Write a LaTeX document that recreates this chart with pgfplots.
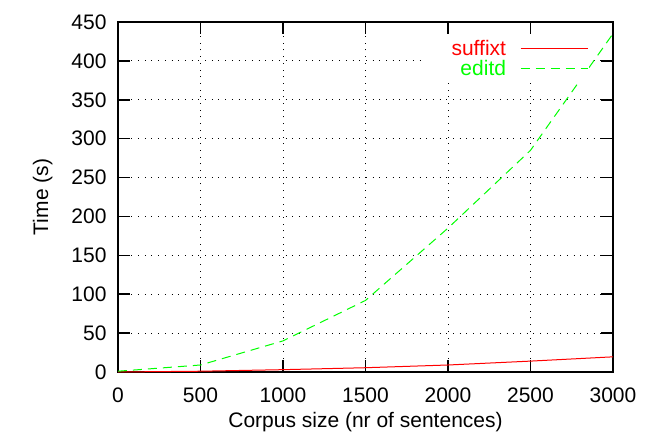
\documentclass[border=0pt]{standalone}
\usepackage{fontspec}
\setmainfont{Liberation Sans}
\usepackage{pgfplots}
\pgfplotsset{compat=1.18}
\begin{document}
\begin{tikzpicture}[x=1pt,y=1pt]
\path[use as bounding box] (-118,-64) rectangle (538,372);
\begin{axis}[
    at={(0,0)}, anchor=south west,
    scale only axis,
    width=495pt, height=350pt,
    xmin=0, xmax=3000, ymin=0, ymax=450,
    xtick={0,500,...,3000},
    ytick={0,50,...,450},
    /pgf/number format/1000 sep={},
    /pgf/number format/assume math mode=true,
    tick label style={font=\fontsize{21}{24}\selectfont},
    xticklabel style={yshift=-12pt},
    yticklabel style={xshift=-8pt},
    label style={font=\fontsize{21}{24}\selectfont},
    xlabel={Corpus size (nr of sentences)},
    ylabel={Time (s)},
    xlabel style={yshift=-3pt},
    ylabel style={yshift=12pt},
    axis line style={line width=1.6pt},
    major tick length=12pt,
    tick style={line width=1.6pt, black},
    grid=major,
    major grid style={black, line width=0.9pt, dash pattern=on 0.9pt off 5.8pt},
    legend style={at={(rel axis cs:0.952,0.96)}, anchor=north east, draw=none, fill=white,
        font=\fontsize{21}{21}\selectfont, row sep=-1pt, inner xsep=1pt, inner ysep=2pt,
        /tikz/every odd column/.append style={column sep=12pt}},
    legend cell align=right,
    legend plot pos=right,
    legend image code/.code={\draw[#1] (0,0) -- (67pt,0);},
]
\addplot[red, line width=1pt] coordinates {
    (0,0) (500,1) (1000,3) (1500,5.5) (2000,9) (2500,14) (3000,19.5)
};
\addlegendentry{\hspace*{24pt}\textcolor{red}{suffixt}}
\addplot[green, line width=1pt, dash pattern=on 9pt off 6pt] coordinates {
    (0,1) (500,9) (1000,40) (1500,92) (2000,185) (2500,285) (3000,435)
};
\addlegendentry{\hspace*{24pt}\textcolor{green}{editd}}
\end{axis}
\end{tikzpicture}
\end{document}
